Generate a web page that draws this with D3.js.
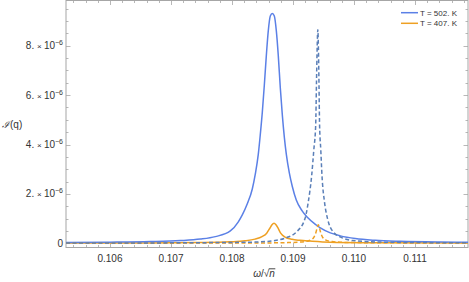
<!DOCTYPE html>
<html>
<head>
<meta charset="utf-8">
<script src="https://cdn.jsdelivr.net/npm/d3@7"></script>
<style>
  body { margin: 0; background: #fff; }
  svg { display: block; font-family: "Liberation Sans", "DejaVu Sans", sans-serif; }
</style>
</head>
<body>
<div id="graph"></div>
<script>
"use strict";

let width = 469,
    height = 282;

const margin = { left: 66, right: 1, top: 0.5, bottom: 34.5 };

// intensity values are in units of 10^-6
const blueSolidX = [0.105279, 0.106005, 0.106661, 0.107153, 0.107481, 0.107727, 0.107973, 0.108104,
    0.108169, 0.108251, 0.108333, 0.108382, 0.108431, 0.108464, 0.108497, 0.108530, 0.108563,
    0.108595, 0.108628, 0.108661, 0.108694, 0.108727, 0.108759, 0.108792, 0.108825, 0.108858,
    0.108891, 0.108940, 0.108989, 0.109054, 0.109153, 0.109235, 0.109382, 0.109448, 0.109612,
    0.109776, 0.110022, 0.110350, 0.110759, 0.111415, 0.111869];
const blueSolidI = [0.03, 0.045, 0.07, 0.11, 0.17, 0.27, 0.5, 0.87,
    1.15, 1.6, 2.2, 2.8, 3.6, 4.4, 5.3, 6.4, 7.6,
    8.6, 9.2, 9.3, 9.2, 8.6, 7.6, 6.3, 5.2, 4.3,
    3.6, 2.85, 2.3, 1.75, 1.3, 1.05, 0.74, 0.62, 0.42,
    0.3, 0.19, 0.12, 0.08, 0.05, 0.04];

const blueDashX = [0.105279, 0.106656, 0.107475, 0.108131, 0.108377, 0.108705, 0.108869, 0.109061,
    0.109197, 0.109251, 0.109307, 0.109341, 0.109372, 0.109385, 0.109397, 0.109407, 0.109416,
    0.109426, 0.109436, 0.109456, 0.109475, 0.109516, 0.109566, 0.109656, 0.109820, 0.109984,
    0.110426, 0.111082, 0.111869];
const blueDashI = [0.01, 0.015, 0.025, 0.04, 0.05, 0.11, 0.21, 0.47,
    1.0, 1.68, 2.76, 3.77, 4.78, 6.5, 8.0, 8.65, 8.0,
    6.5, 4.78, 3.77, 2.76, 1.68, 1.0, 0.47, 0.21, 0.11,
    0.05, 0.03, 0.02];

const orangeSolidX = [0.105279, 0.106656, 0.107475, 0.107967, 0.108213, 0.108377, 0.108492, 0.108569,
    0.108623, 0.108656, 0.108689, 0.108721, 0.108754, 0.108798, 0.108869, 0.108984, 0.109115,
    0.109279, 0.109607, 0.110262, 0.111869];
const orangeSolidI = [0.01, 0.015, 0.03, 0.06, 0.10, 0.17, 0.27, 0.41,
    0.62, 0.75, 0.81, 0.75, 0.62, 0.41, 0.25, 0.16, 0.12,
    0.09, 0.045, 0.025, 0.01];

const orangeDashX = [0.105279, 0.108295, 0.108951, 0.109197, 0.109295, 0.109344, 0.109377, 0.109398,
    0.109415, 0.109431, 0.109452, 0.109484, 0.109533, 0.109639, 0.109934, 0.111869];
const orangeDashI = [0.005, 0.01, 0.03, 0.07, 0.14, 0.25, 0.45, 0.65,
    0.75, 0.65, 0.45, 0.25, 0.14, 0.07, 0.03, 0.01];

const xMajor = [0.106, 0.107, 0.108, 0.109, 0.110, 0.111];
const yMajor = [0, 2, 4, 6, 8];
const yLabels = ["0", "2", "4", "6", "8"];
const legendNames = ["T = 502. K", "T = 407. K"];

const blue = "#5b80e6",
      blueDash = "#5a7fb8",
      orange = "#eea023";

let svg = d3.select("#graph").append("svg")
    .attr("width", width)
    .attr("height", height);

let x = d3.scaleLinear()
    .domain([0.105279, 0.111869])
    .range([margin.left, width - margin.right]);
let y = d3.scaleLinear()
    .domain([-0.17, 9.83])
    .range([height - margin.bottom, margin.top]);

let x0 = x.range()[0], x1 = x.range()[1];
let y0 = y.range()[0], y1 = y.range()[1];

// minor ticks
let xMinor = d3.range(0.1054, 0.1119, 0.0002).filter(v => v >= x.domain()[0] && v <= x.domain()[1]);
let yMinor = d3.range(0, 9.8, 0.5);

let ticks = svg.append("g").attr("stroke", "#a6a6a6").attr("stroke-width", 0.8);
function isMajor(v, list) { return list.some(m => Math.abs(m - v) < 1e-7); }

xMinor.forEach(v => {
    let len = isMajor(v, xMajor) ? 4.5 : 2.5;
    let px = Math.round(x(v)) + 0.5;
    ticks.append("line").attr("x1", px).attr("x2", px).attr("y1", y0).attr("y2", y0 - len);
    ticks.append("line").attr("x1", px).attr("x2", px).attr("y1", y1).attr("y2", y1 + len);
});
yMinor.forEach(v => {
    let len = isMajor(v, yMajor) ? 4.5 : 2.5;
    let py = Math.round(y(v)) + 0.5;
    ticks.append("line").attr("x1", x0).attr("x2", x0 + len).attr("y1", py).attr("y2", py);
    ticks.append("line").attr("x1", x1).attr("x2", x1 - len).attr("y1", py).attr("y2", py);
});

// frame
svg.append("rect")
    .attr("x", x0).attr("y", y1)
    .attr("width", x1 - x0).attr("height", y0 - y1)
    .attr("fill", "none")
    .attr("stroke", "#a6a6a6")
    .attr("stroke-width", 1);

// tick labels
svg.append("g").selectAll("text")
    .data(xMajor)
    .enter()
    .append("text")
    .attr("x", d => x(d))
    .attr("y", y0 + 14)
    .attr("text-anchor", "middle")
    .attr("font-size", 10)
    .attr("fill", "#333")
    .text(d => d3.format(".3f")(d));

let ylab = svg.append("g").selectAll("text")
    .data(yMajor)
    .enter()
    .append("text")
    .attr("x", x0 - 3)
    .attr("y", d => y(d) + 3.5)
    .attr("text-anchor", "end")
    .attr("font-size", 10)
    .attr("fill", "#333");
ylab.each(function(d, i) {
    let t = d3.select(this);
    if (d === 0) { t.text("0"); return; }
    t.append("tspan").text(yLabels[i] + ". ");
    t.append("tspan").attr("font-size", 8).text("× ");
    t.append("tspan").text("10");
    t.append("tspan").attr("font-size", 7).attr("dy", -4).text("−6");
});

// axis labels
svg.append("text")
    .attr("x", 2)
    .attr("y", 128)
    .attr("font-size", 10)
    .attr("fill", "#333")
    .html('<tspan font-family="DejaVu Serif" font-style="italic">ℐ</tspan><tspan dx="1">(q)</tspan>');

let xl = svg.append("text")
    .attr("x", (x0 + x1) / 2 - 3)
    .attr("y", 277)
    .attr("text-anchor", "middle")
    .attr("font-size", 10)
    .attr("fill", "#333");
xl.append("tspan").attr("font-style", "italic").text("ω");
xl.append("tspan").text("/√");
xl.append("tspan").attr("font-style", "italic").text("n");
let ext = xl.node().getExtentOfChar(3);
svg.append("line")
    .attr("x1", ext.x - 0.5).attr("x2", ext.x + ext.width + 0.5)
    .attr("y1", ext.y + 0.8).attr("y2", ext.y + 0.8)
    .attr("stroke", "#333").attr("stroke-width", 0.9);

// curves
let plot = svg.append("g");
function drawCurve(xs, vs, color, dashed) {
    let pts = xs.map((v, i) => [v, vs[i]]);
    let line = d3.line()
        .x(d => x(d[0]))
        .y(d => y(d[1]))
        .curve(d3.curveMonotoneX);
    plot.append("path")
        .datum(pts)
        .attr("fill", "none")
        .attr("stroke", color)
        .attr("stroke-width", 1.5)
        .attr("stroke-dasharray", dashed ? "4,2.5" : null)
        .attr("d", line);
}
drawCurve(orangeSolidX, orangeSolidI, orange, false);
drawCurve(blueSolidX, blueSolidI, blue, false);
drawCurve(orangeDashX, orangeDashI, orange, true);
drawCurve(blueDashX, blueDashI, blueDash, true);

// legend
let legend = svg.append("g");
legendNames.forEach((name, i) => {
    let ly = 12.7 + i * 10.6;
    legend.append("line")
        .attr("x1", 401).attr("x2", 418)
        .attr("y1", ly).attr("y2", ly)
        .attr("stroke", i === 0 ? blue : orange)
        .attr("stroke-width", 1.5);
    legend.append("text")
        .attr("x", 420)
        .attr("y", ly + 3)
        .attr("font-size", 8)
        .attr("fill", "#333")
        .text(name);
});
</script>
</body>
</html>
